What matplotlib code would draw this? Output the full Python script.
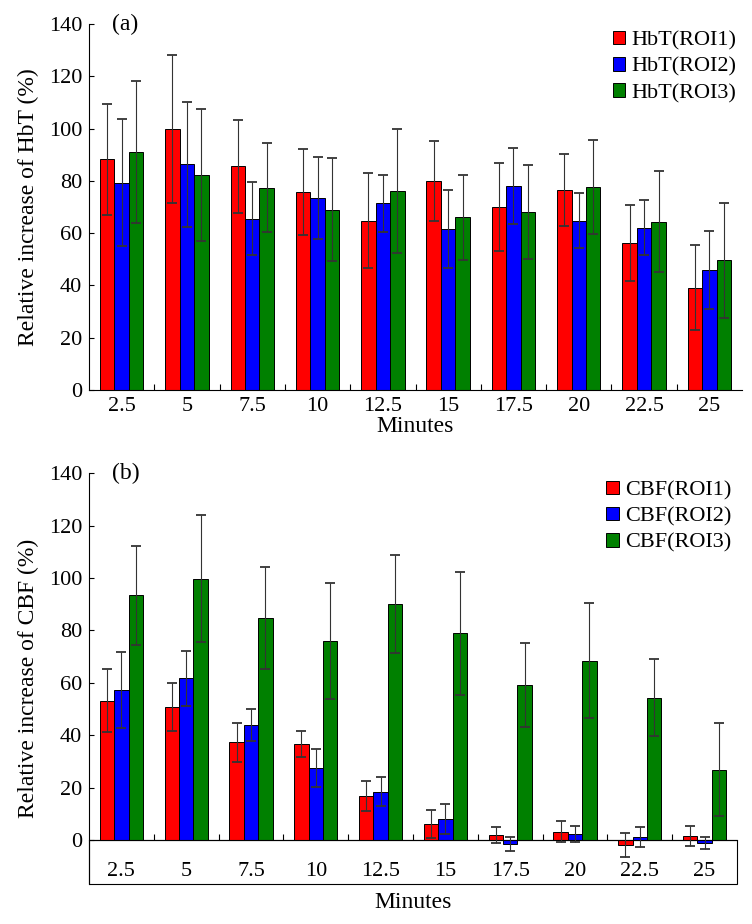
import matplotlib
matplotlib.use("Agg")
import matplotlib.pyplot as plt
import numpy as np
from matplotlib.patches import Rectangle

plt.rcParams["font.family"] = ["Liberation Serif", "DejaVu Serif"]
plt.rcParams["font.size"] = 16

minutes = ["2.5", "5", "7.5", "10", "12.5", "15", "17.5", "20", "22.5", "25"]

# panel (a): HbT
hbt_roi1 = [88.3, 99.9, 85.5, 75.8, 64.8, 79.8, 70.1, 76.5, 56.2, 39.2]
hbt_roi2 = [79.3, 86.3, 65.6, 73.4, 71.4, 61.6, 78.1, 64.8, 62.1, 45.9]
hbt_roi3 = [91.0, 82.2, 77.4, 69.0, 76.1, 66.0, 68.1, 77.7, 64.4, 49.6]
hbt_err1 = [21.2, 28.2, 17.8, 16.5, 18.2, 15.3, 16.8, 13.8, 14.4, 16.4]
hbt_err2 = [24.2, 24.0, 13.8, 15.8, 11.0, 15.0, 14.6, 10.6, 10.4, 14.9]
hbt_err3 = [27.3, 25.3, 17.0, 19.6, 23.8, 16.4, 18.1, 17.9, 19.3, 22.0]

# panel (b): CBF
cbf_roi1 = [53.2, 50.8, 37.3, 36.6, 16.8, 6.1, 1.9, 3.2, -2.0, 1.6]
cbf_roi2 = [57.3, 61.7, 44.0, 27.5, 18.5, 8.0, -1.5, 2.3, 1.0, -1.1]
cbf_roi3 = [93.4, 99.7, 84.6, 76.0, 90.1, 78.9, 59.3, 68.5, 54.4, 26.9]
cbf_err1 = [12.0, 9.2, 7.4, 5.0, 5.6, 5.3, 3.2, 4.0, 4.6, 3.8]
cbf_err2 = [14.6, 10.6, 6.2, 7.1, 5.4, 5.8, 2.8, 3.0, 3.8, 2.4]
cbf_err3 = [18.8, 24.2, 19.5, 22.0, 18.7, 23.4, 16.0, 22.0, 14.6, 17.6]

colors = ["#ff0000", "#0000ff", "#008000"]
width = 0.222
x = np.arange(len(minutes))

fig = plt.figure(figsize=(7.52, 9.24), dpi=100)
ax1 = fig.add_axes([89 / 752, 1 - 390 / 924, 653 / 752, 366 / 924])
ax2 = fig.add_axes([89 / 752, 1 - 884 / 924, 648 / 752, 410.7 / 924])


def draw_bars(ax, series, errors, names):
    for i, (vals, errs, name) in enumerate(zip(series, errors, names)):
        ax.bar(x + (i - 1) * width, vals, width, color=colors[i],
               edgecolor="black", linewidth=0.7, label=name, zorder=2)
        ax.errorbar(x + (i - 1) * width, vals, yerr=errs, fmt="none",
                    ecolor="#333333", elinewidth=0.8, capsize=3.5,
                    capthick=1.3, zorder=3)
    ax.set_xlim(-0.5, len(minutes) - 0.5)
    ax.set_yticks(np.arange(0, 141, 20))
    ax.set_xticks(x)
    ax.set_xticklabels(minutes)
    ax.set_xticks(x[:-1] + 0.5, minor=True)
    ax.tick_params(axis="y", direction="in", length=3.5, width=0.8, pad=5)
    ax.tick_params(axis="x", which="major", length=0)
    ax.tick_params(axis="x", which="minor", direction="in", length=4, width=0.8)
    ax.spines["top"].set_visible(False)
    ax.spines["right"].set_visible(False)
    for s in ("left", "bottom"):
        ax.spines[s].set_linewidth(0.8)
    ax.legend(loc="upper right", bbox_to_anchor=(0.997, 0.99), frameon=False,
              handlelength=0.55, handleheight=0.55, handletextpad=0.3,
              labelspacing=0.3, borderaxespad=0.0, borderpad=0.15)


draw_bars(ax1, [hbt_roi1, hbt_roi2, hbt_roi3], [hbt_err1, hbt_err2, hbt_err3],
          ["HbT(ROI1)", "HbT(ROI2)", "HbT(ROI3)"])
ax1.set_ylim(0, 140)
ax1.tick_params(axis="x", which="major", pad=5)
ax1.set_xlabel("Minutes", fontsize=17, labelpad=0)
ax1.set_ylabel("Relative increase of HbT (%)", fontsize=17, labelpad=7)
ax1.text(0.035, 1.0, "(a)", fontsize=17, transform=ax1.transAxes,
         va="center", ha="left")

draw_bars(ax2, [cbf_roi1, cbf_roi2, cbf_roi3], [cbf_err1, cbf_err2, cbf_err3],
          ["CBF(ROI1)", "CBF(ROI2)", "CBF(ROI3)"])
ymin = -16.8
ax2.set_ylim(ymin, 140)
ax2.spines["bottom"].set_position(("data", 0))
ax2.spines["left"].set_bounds(ymin, 140)
frac0 = -ymin / (140 - ymin)
ax2.add_patch(Rectangle((0, 0), 1, frac0, transform=ax2.transAxes, fill=False,
                        edgecolor="black", linewidth=0.8, clip_on=False))
ax2.tick_params(axis="x", which="major", pad=16)
ax2.set_ylabel("Relative increase of CBF (%)", fontsize=17, labelpad=7)
fig.text((89 + 737) / 2 / 752, 1 - 903 / 924, "Minutes", fontsize=17,
         ha="center", va="center")
ax2.text(0.035, 1.0, "(b)", fontsize=17, transform=ax2.transAxes,
         va="center", ha="left")

fig.savefig("out.png", dpi=100)
